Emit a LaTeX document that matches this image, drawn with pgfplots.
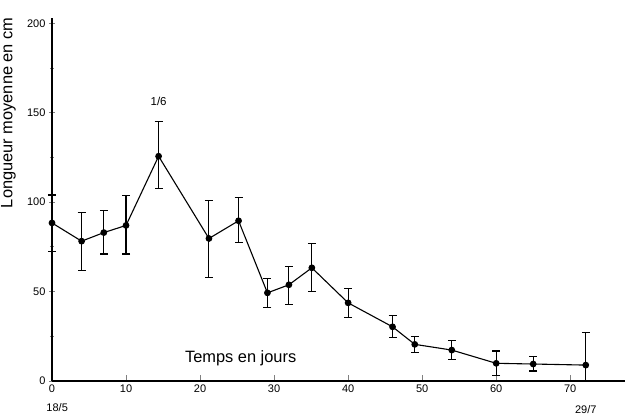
\documentclass[border=0pt]{standalone}
\usepackage{fontspec}
\setmainfont{Liberation Sans}
\usepackage{pgfplots}
\usepackage{pgfplotstable}
\pgfplotsset{compat=1.18}

% jour, moyenne, erreur +, erreur -
\pgfplotstableread{
x    y      ep    em
0    88.4   15.6  15.8
4    78.2   16.0  16.2
7    83.0   12.3  12.0
10   87.0   16.5  16.0
14.4 125.7  19.6  18.1
21.2 79.7   21.3  22.0
25.2 89.6   12.8  12.1
29.1 49.3   8.1   8.1
32   53.8   10.4  10.8
35.1 63.3   13.8  13.4
40   43.7   8.1   8.3
46   30.3   6.2   6.1
49   20.5   4.6   4.7
54   17.3   5.2   5.2
60   9.9    6.9   6.9
65   9.5    4.1   3.9
72.1 8.9    18.3  8.9
}\longueur

\begin{document}
\begin{tikzpicture}
\path[use as bounding box] (-52pt,-35pt) rectangle (574pt,363pt+18pt);
\begin{axis}[
    scale only axis,
    width=573pt, height=363pt,
    xmin=0, xmax=77.4,
    ymin=0, ymax=203,
    axis x line=bottom, axis y line=left,
    axis line style={-, line width=1.1pt},
    xtick={0,10,...,70},
    ytick={0,50,...,200},
    minor y tick num=1,
    x tick style={line width=1pt},
    y tick style={line width=1pt},
    xtick align=inside,
    ytick align=center,
    major tick length=6pt,
    minor tick length=4pt,
    tick label style={font=\fontsize{11}{13}\selectfont},
    /pgf/number format/assume math mode=true,
    clip=false,
]
\addplot[black, line width=1.1pt, mark=*, mark size=2.8pt,
    error bars/.cd, y dir=both, y explicit,
    error bar style={line width=1.1pt},
    error mark options={rotate=90, mark size=4pt, line width=1.1pt}]
    table[x=x, y=y, y error plus=ep, y error minus=em] {\longueur};
\node[font=\fontsize{11.5}{13}\selectfont] at (axis cs:14.4,156.6) {1/6};
\node[font=\fontsize{11}{13}\selectfont] at (axis cs:0.7,-15) {18/5};
\node[font=\fontsize{11}{13}\selectfont] at (axis cs:72.1,-16) {29/7};
\node[font=\fontsize{16.4}{18}\selectfont, anchor=west] at (axis cs:17.5,12.8) {Temps en jours};
\node[font=\fontsize{16.4}{18}\selectfont, rotate=90] at (axis cs:-5.9,150) {Longueur moyenne en cm};
\end{axis}
\end{tikzpicture}
\end{document}
